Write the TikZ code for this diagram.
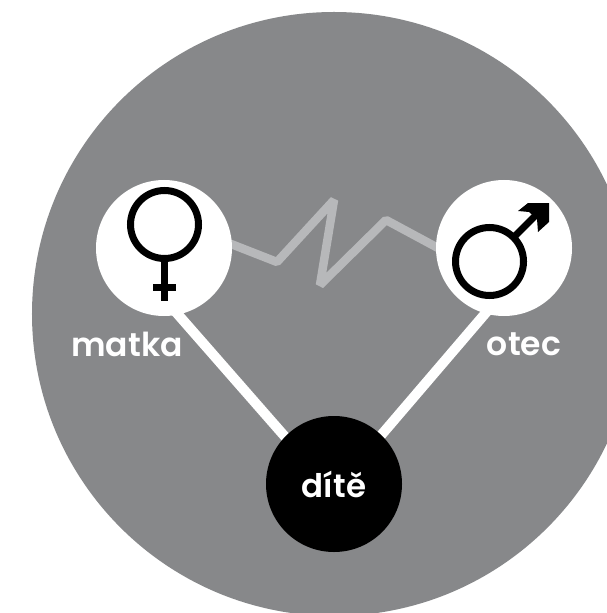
\documentclass[tikz,border=0pt]{standalone}
\usepackage{fontspec}
\setmainfont[BoldFont={Poppins SemiBold}]{Poppins}
\definecolor{disc}{HTML}{87888A}
\definecolor{zig}{HTML}{B7B8BA}
\pgfdeclarelayer{back}
\pgfdeclarelayer{mid}
\pgfsetlayers{back,mid,main}
\tikzset{
  person/.style={circle,fill=white,minimum size=136bp,inner sep=0pt},
  child/.style={circle,fill=black,minimum size=136bp,inner sep=0pt,text=white,font=\fontsize{32.5bp}{36bp}\selectfont\bfseries},
  tag/.style={text=white,font=\fontsize{33bp}{36bp}\selectfont\bfseries,inner sep=0pt},
  tie/.style={white,line width=10bp,shorten <=-8bp,shorten >=-8bp},
  broken/.style={zig,line width=8.5bp,line join=bevel,shorten <=-5bp,shorten >=-5bp},
  sym/.style={black,line width=7bp}
}
\begin{document}
\begin{tikzpicture}[x=1bp,y=-1bp]
\useasboundingbox (0,0) rectangle (607,613);
\begin{pgfonlayer}{back}
\fill[white] (0,0) rectangle (607,613);
\clip (0,0) rectangle (607,613);
\node[circle,fill=disc,minimum size=604bp,inner sep=0pt] (disc) at (334,314) {};
\end{pgfonlayer}
\node[person] (m) at (164,248) {};
\node[person] (o) at (504,248) {};
\node[child] (d) at (334,484) {d\'it\v e};
\coordinate (z1) at (277,262);
\coordinate (z2) at (334,200);
\coordinate (z3) at (320,285);
\coordinate (z4) at (386,220);
\begin{pgfonlayer}{mid}
\draw[tie] (m.-78) -- (d.136);
\draw[tie] (o.-106) -- (d.46);
\draw[broken] (m.3) -- (z1) -- (z2) -- (z3) -- (z4) -- (o.179);
\end{pgfonlayer}
\node[tag] (lm) at (127,344) {matka};
\node[tag] (lo) at (524,344) {otec};
\draw[sym] (164.5,224.5) circle (34bp);
\draw[sym] (164.5,258) -- (164.5,301) (153,287) -- (176,287);
\draw[sym] (489.5,261.5) circle (34bp);
\draw[line width=7bp,black] (513,238) -- (535,216);
\fill[black] (549,203) -- (528,203) -- (518,211) -- (529,212) -- (537,219) -- (538,232) -- (549,222) -- cycle;
\end{tikzpicture}
\end{document}
